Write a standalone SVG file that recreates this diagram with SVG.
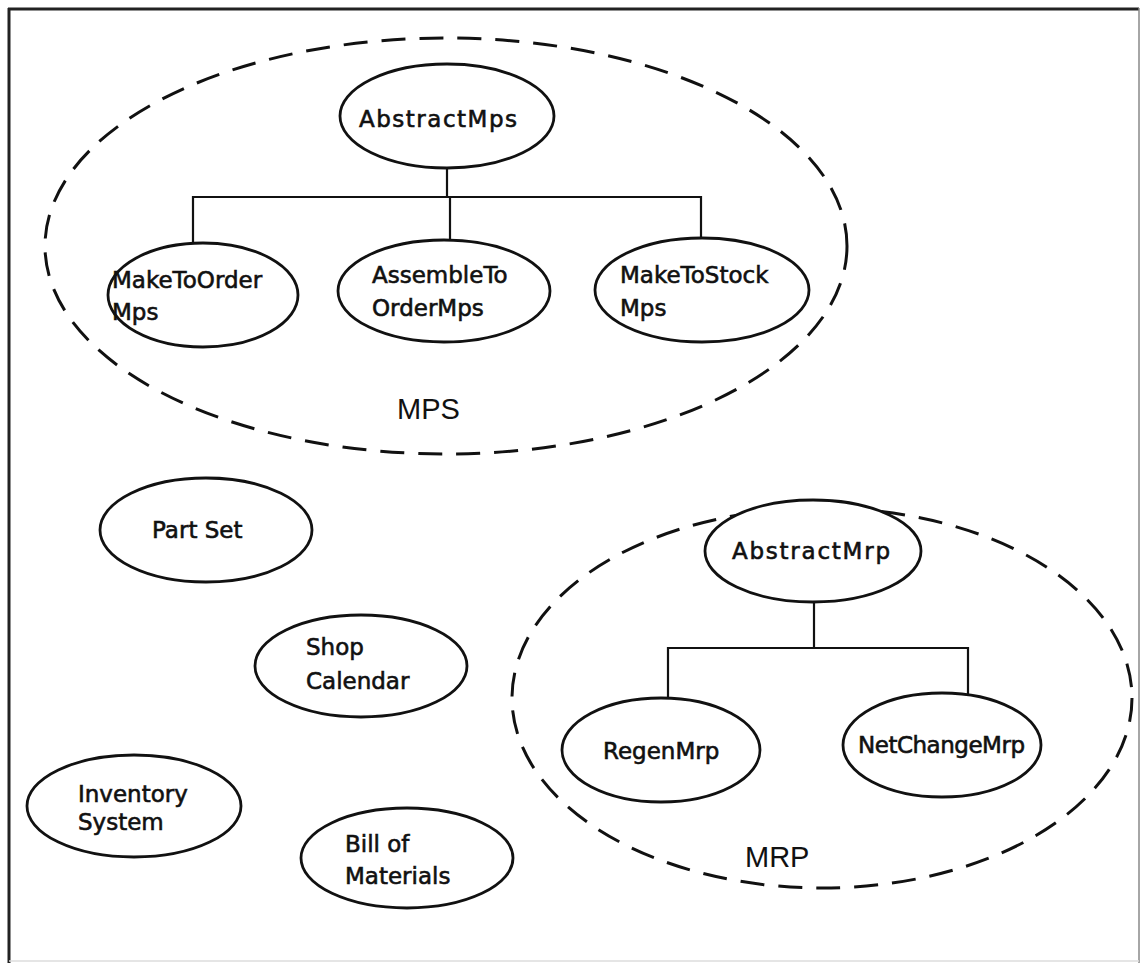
<svg xmlns="http://www.w3.org/2000/svg" width="1141" height="966" viewBox="0 0 1141 966">
<style>
.node{fill:#fff;stroke:#111;stroke-width:2.8}
.grp{fill:none;stroke:#111;stroke-width:3;stroke-dasharray:24 14}
.lbl{font-family:"DejaVu Sans",sans-serif;font-size:23px;fill:#111;stroke:#111;stroke-width:0.6}
.glbl{font-family:"Liberation Sans",sans-serif;font-size:29px;fill:#111}
.conn{fill:none;stroke:#111;stroke-width:2.2}
</style>
<rect width="1141" height="966" fill="#fff"/>
<g id="frame">
<line x1="8" y1="9" x2="1139" y2="9" stroke="#222" stroke-width="3"/>
<line x1="9" y1="8" x2="9" y2="963" stroke="#222" stroke-width="3"/>
<line x1="1139" y1="8" x2="1139" y2="963" stroke="#888" stroke-width="1.5"/>
<line x1="9" y1="961" x2="1139" y2="961" stroke="#ddd" stroke-width="1.5"/>
</g>
<g id="group-MPS">
<ellipse class="grp" cx="446" cy="246" rx="401" ry="208"/>
<text class="glbl" x="397" y="419">MPS</text>
</g>
<g id="group-MRP">
<ellipse class="grp" cx="822" cy="698" rx="310" ry="190"/>
<text class="glbl" x="745" y="867">MRP</text>
</g>
<g id="connectors">
<polyline class="conn" points="447,168 447,197"/>
<polyline class="conn" points="193,243 193,197 701,197 701,238"/>
<polyline class="conn" points="450,197 450,240"/>
<polyline class="conn" points="814,602 814,648"/>
<polyline class="conn" points="668,698 668,648 968,648 968,694"/>
</g>
<g id="AbstractMps">
<ellipse class="node" cx="447" cy="116" rx="107" ry="52"/>
<text class="lbl" x="359" y="127" textLength="158">AbstractMps</text>
</g>
<g id="MakeToOrderMps">
<ellipse class="node" cx="203" cy="295" rx="95" ry="52"/>
<text class="lbl" x="112" y="288">MakeToOrder</text>
<text class="lbl" x="112" y="320">Mps</text>
</g>
<g id="AssembleToOrderMps">
<ellipse class="node" cx="444" cy="291" rx="106" ry="51"/>
<text class="lbl" x="372" y="283">AssembleTo</text>
<text class="lbl" x="372" y="316">OrderMps</text>
</g>
<g id="MakeToStockMps">
<ellipse class="node" cx="702" cy="290" rx="107" ry="52"/>
<text class="lbl" x="620" y="283">MakeToStock</text>
<text class="lbl" x="620" y="316">Mps</text>
</g>
<g id="PartSet">
<ellipse class="node" cx="206" cy="530" rx="106" ry="52"/>
<text class="lbl" x="152" y="538">Part Set</text>
</g>
<g id="ShopCalendar">
<ellipse class="node" cx="361" cy="666" rx="106" ry="51"/>
<text class="lbl" x="306" y="655">Shop</text>
<text class="lbl" x="306" y="689">Calendar</text>
</g>
<g id="InventorySystem">
<ellipse class="node" cx="134" cy="806" rx="107" ry="51"/>
<text class="lbl" x="78" y="802">Inventory</text>
<text class="lbl" x="78" y="830">System</text>
</g>
<g id="BillOfMaterials">
<ellipse class="node" cx="407" cy="858" rx="106" ry="50"/>
<text class="lbl" x="345" y="852">Bill of</text>
<text class="lbl" x="345" y="884">Materials</text>
</g>
<g id="AbstractMrp">
<ellipse class="node" cx="813" cy="551" rx="108" ry="51"/>
<text class="lbl" x="732" y="559" textLength="158">AbstractMrp</text>
</g>
<g id="RegenMrp">
<ellipse class="node" cx="661" cy="750" rx="99" ry="52"/>
<text class="lbl" x="603" y="759">RegenMrp</text>
</g>
<g id="NetChangeMrp">
<ellipse class="node" cx="942" cy="745" rx="99" ry="52"/>
<text class="lbl" x="858" y="753" textLength="167">NetChangeMrp</text>
</g>
</svg>
